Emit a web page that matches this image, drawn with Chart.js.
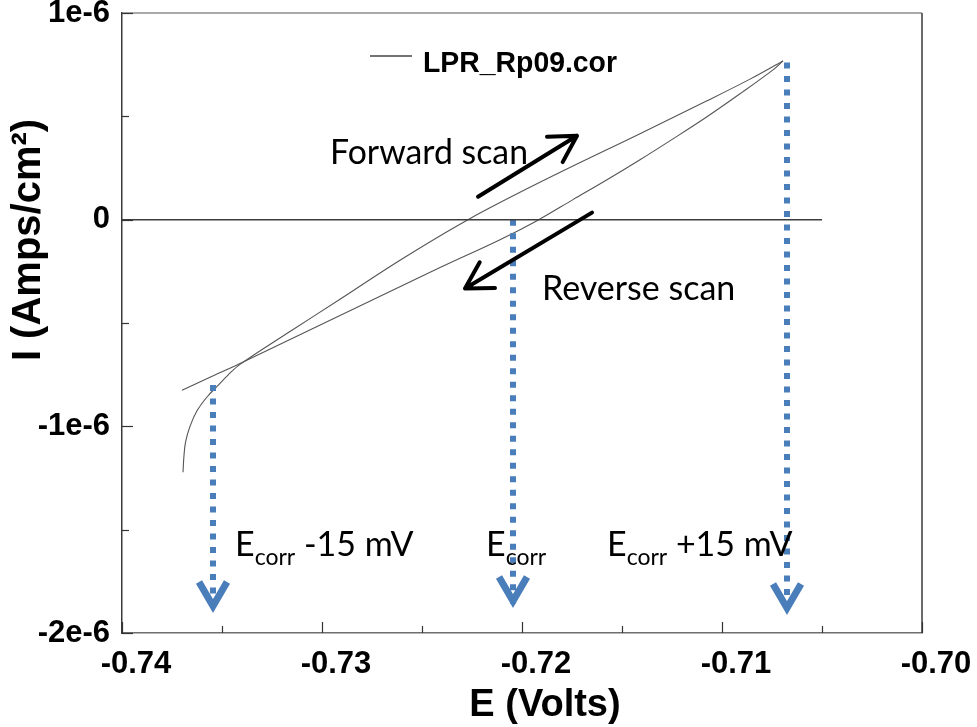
<!DOCTYPE html>
<html>
<head>
<meta charset="utf-8">
<script src="https://cdn.jsdelivr.net/npm/chart.js@4.4.1/dist/chart.umd.min.js"></script>
<style>
  html, body { margin: 0; padding: 0; background: #fff; }
  #wrap { width: 977px; height: 727px; position: relative; }
</style>
</head>
<body>
<div id="wrap"><canvas id="lpr"></canvas></div>
<script>
// =============================================================================
// LPR scan (Rp09) – current vs potential, forward + reverse sweep
// =============================================================================

const SERIES_NAME = 'LPR_Rp09.cor';

// forward scan: Ecorr-15mV -> Ecorr+15mV (volts / amps per cm2)
const forwardE = [-0.73695, -0.7369, -0.73682, -0.7366, -0.73625, -0.73575, -0.73525, -0.7347,
                  -0.7341, -0.7316, -0.7291, -0.7261, -0.7227, -0.71885, -0.7141, -0.71075, -0.7086, -0.70695];
const forwardI = [-1.222e-6, -1.140e-6, -1.075e-6, -1.000e-6, -0.925e-6, -0.858e-6, -0.807e-6, -0.752e-6,
                  -0.700e-6, -0.541e-6, -0.385e-6, -0.196e-6, 0, 0.193e-6, 0.416e-6, 0.575e-6, 0.680e-6, 0.768e-6];

// reverse scan: back down to the start potential
const reverseE = [-0.70695, -0.70745, -0.7091, -0.71075, -0.71245, -0.7141, -0.71575, -0.71745, -0.71925,
                  -0.7211, -0.7241, -0.7266, -0.7291, -0.7316, -0.7341, -0.7356, -0.737];
const reverseI = [0.768e-6, 0.725e-6, 0.609e-6, 0.498e-6, 0.391e-6, 0.290e-6, 0.193e-6, 0.097e-6, -0.005e-6,
                  -0.097e-6, -0.232e-6, -0.348e-6, -0.464e-6, -0.580e-6, -0.696e-6, -0.763e-6, -0.826e-6];

// tick labels
const xTickLabels = ['-0.74', '-0.73', '-0.72', '-0.71', '-0.70'];
const yTickLabels = ['-2e-6', '-1e-6', '0', '1e-6'];

// Ecorr markers (blue dotted arrows)
const markerE    = [-0.73545, -0.72045, -0.70675];
const markerTopI = [-0.80e-6, 0, 0.76e-6];
const markerTipI = [-1.884e-6, -1.86e-6, -1.894e-6];
const markerText = [['E', 'corr', ' -15 mV'], ['E', 'corr', ''], ['E', 'corr', ' +15 mV']];

// horizontal I = 0 line
const zeroLineE = [-0.74, -0.705];

// -----------------------------------------------------------------------------
// annotation placement (data coords)
// -----------------------------------------------------------------------------
const NOTES = {
  markerLabelE: [-0.73435, -0.7218, -0.71575],
  markerLabelI: -1.628e-6,
  forward: { text: 'Forward scan', e: -0.7296, i: 0.2705e-6, arrow: [-0.7222, 0.111e-6, -0.71725, 0.406e-6] },
  reverse: { text: 'Reverse scan', e: -0.719,  i: -0.391e-6, arrow: [-0.7165, 0.034e-6, -0.72285, -0.333e-6] },
  legend:  { line: [-0.7276, -0.7255, 0.792e-6], e: -0.72495, i: 0.715e-6 }
};

const BLUE = '#4a7ebb';
const TICK_FONT = { family: "'Liberation Sans', Arial, sans-serif", size: 31, weight: 'bold' };

function xy(es, is) {
  return es.map((e, k) => ({ x: e, y: Array.isArray(is) ? is[k] : is }));
}

function drawArrow(ctx, x0, y0, x1, y1, len, color, width) {
  const ang = Math.atan2(y0 - y1, x0 - x1);
  ctx.strokeStyle = color;
  ctx.lineWidth = width;
  ctx.lineCap = 'round';
  ctx.lineJoin = 'round';
  ctx.beginPath();
  ctx.moveTo(x0, y0);
  ctx.lineTo(x1, y1);
  ctx.moveTo(x1 + len * Math.cos(ang + 0.52), y1 + len * Math.sin(ang + 0.52));
  ctx.lineTo(x1, y1);
  ctx.lineTo(x1 + len * Math.cos(ang - 0.52), y1 + len * Math.sin(ang - 0.52));
  ctx.stroke();
}

const annotate = {
  id: 'annotate',
  afterDatasetsDraw(chart) {
    const { ctx, chartArea: a, scales: { x, y } } = chart;
    ctx.save();

    // top / right frame
    ctx.lineWidth = 1.5;
    ctx.strokeStyle = '#8c8c8c';
    ctx.beginPath(); ctx.moveTo(a.left, a.top); ctx.lineTo(a.right, a.top); ctx.stroke();
    ctx.strokeStyle = '#3a3a3a';
    ctx.beginPath(); ctx.moveTo(a.right, a.top); ctx.lineTo(a.right, a.bottom); ctx.stroke();

    // inside tick marks
    ctx.strokeStyle = '#333';
    ctx.lineWidth = 1.2;
    x.ticks.forEach(t => {
      const px = Math.round(x.getPixelForValue(t.value)) + 0.5;
      const len = t.label ? 11 : 7;
      ctx.beginPath(); ctx.moveTo(px, a.bottom); ctx.lineTo(px, a.bottom - len); ctx.stroke();
    });
    y.ticks.forEach(t => {
      const py = Math.round(y.getPixelForValue(t.value)) + 0.5;
      const len = t.label ? 11 : 7;
      ctx.beginPath(); ctx.moveTo(a.left, py); ctx.lineTo(a.left + len, py); ctx.stroke();
    });

    // blue chevrons at the marker tips
    ctx.strokeStyle = BLUE;
    ctx.lineWidth = 7;
    ctx.lineCap = 'butt';
    ctx.lineJoin = 'miter';
    markerE.forEach((e, k) => {
      const px = x.getPixelForValue(e), py = y.getPixelForValue(markerTipI[k]);
      ctx.beginPath();
      ctx.moveTo(px - 14, py - 27);
      ctx.lineTo(px, py - 3);
      ctx.lineTo(px + 14, py - 27);
      ctx.stroke();
    });

    // Ecorr labels
    ctx.fillStyle = '#000';
    ctx.textBaseline = 'alphabetic';
    ctx.textAlign = 'left';
    markerText.forEach((parts, k) => {
      let px = x.getPixelForValue(NOTES.markerLabelE[k]);
      const py = y.getPixelForValue(NOTES.markerLabelI);
      ctx.font = '34px Lato, "Open Sans", sans-serif';
      ctx.fillText(parts[0], px, py);
      px += ctx.measureText(parts[0]).width;
      ctx.font = '23px Lato, "Open Sans", sans-serif';
      ctx.fillText(parts[1], px, py + 9);
      px += ctx.measureText(parts[1]).width;
      ctx.font = '34px Lato, "Open Sans", sans-serif';
      if (parts[2]) ctx.fillText(parts[2], px, py);
    });

    // scan direction notes
    [NOTES.forward, NOTES.reverse].forEach(n => {
      ctx.font = '34px Lato, "Open Sans", sans-serif';
      ctx.fillStyle = '#000';
      ctx.fillText(n.text, x.getPixelForValue(n.e), y.getPixelForValue(n.i), 198);
      const [e0, i0, e1, i1] = n.arrow;
      drawArrow(ctx, x.getPixelForValue(e0), y.getPixelForValue(i0),
                x.getPixelForValue(e1), y.getPixelForValue(i1), 30, '#000', 4);
    });

    // legend entry
    const L = NOTES.legend;
    ctx.strokeStyle = '#444';
    ctx.lineWidth = 1.5;
    ctx.lineCap = 'butt';
    ctx.beginPath();
    ctx.moveTo(x.getPixelForValue(L.line[0]), y.getPixelForValue(L.line[2]));
    ctx.lineTo(x.getPixelForValue(L.line[1]), y.getPixelForValue(L.line[2]));
    ctx.stroke();
    ctx.font = 'bold 29px "Liberation Sans", Arial, sans-serif';
    ctx.fillStyle = '#000';
    ctx.fillText(SERIES_NAME, x.getPixelForValue(L.e), y.getPixelForValue(L.i), 194);

    // axis titles
    ctx.font = 'bold 38px "Liberation Sans", Arial, sans-serif';
    ctx.textAlign = 'center';
    ctx.textBaseline = 'middle';
    ctx.fillText('E (Volts)', (a.left + a.right) / 2 + 23, 706, 166);
    ctx.translate(29, 240);
    ctx.rotate(-Math.PI / 2);
    ctx.font = 'bold 40px "Liberation Sans", Arial, sans-serif';
    ctx.fillText('I (Amps/cm\u00b2)', 0, 0, 296);

    ctx.restore();
  }
};

const scanLine = { borderColor: '#555', borderWidth: 1.1, tension: 0.35 };

const datasets = [
  {
    label: 'zero',
    data: xy(zeroLineE, 0),
    borderColor: '#3c3c3c',
    borderWidth: 1.5
  },
  ...markerE.map((e, k) => ({
    label: 'marker' + k,
    data: [{ x: e, y: markerTopI[k] }, { x: e, y: markerTipI[k] }],
    borderColor: BLUE,
    borderWidth: 6,
    borderDash: [6, 7.5],
    borderCapStyle: 'butt'
  })),
  { label: SERIES_NAME + ' forward', data: xy(forwardE, forwardI), ...scanLine },
  { label: SERIES_NAME + ' reverse', data: xy(reverseE, reverseI), ...scanLine }
];

new Chart(document.getElementById('lpr'), {
  type: 'scatter',
  data: { datasets },
  options: {
    responsive: true,
    maintainAspectRatio: false,
    animation: false,
    showLine: true,
    elements: { point: { radius: 0 }, line: { tension: 0 } },
    layout: { padding: { top: 13, right: 55, left: 0, bottom: 0 } },
    plugins: { legend: { display: false }, tooltip: { enabled: false } },
    scales: {
      x: {
        type: 'linear',
        min: -0.74,
        max: -0.70,
        grid: { display: false, drawTicks: false },
        border: { display: true, color: '#6e6e6e', width: 1.5 },
        ticks: {
          stepSize: 0.005,
          autoSkip: false,
          maxRotation: 0,
          padding: 13,
          labelOffset: 14,
          color: '#000',
          font: TICK_FONT,
          callback: v => {
            const k = Math.round((v + 0.74) / 0.005);
            return k % 2 === 0 ? xTickLabels[k / 2] : '';
          }
        },
        afterFit: s => { s.height = 94; s.paddingLeft = 0; s.paddingRight = 0; }
      },
      y: {
        type: 'linear',
        min: -2e-6,
        max: 1e-6,
        grid: { display: false, drawTicks: false },
        border: { display: true, color: '#3a3a3a', width: 1.5 },
        ticks: {
          stepSize: 0.5e-6,
          autoSkip: false,
          padding: 12,
          color: '#000',
          font: TICK_FONT,
          callback: v => {
            const k = Math.round((v + 2e-6) / 0.5e-6);
            return k % 2 === 0 ? yTickLabels[k / 2] : '';
          }
        },
        afterFit: s => { s.width = 122; s.paddingTop = 0; s.paddingBottom = 0; }
      }
    }
  },
  plugins: [annotate]
});
</script>
</body>
</html>
